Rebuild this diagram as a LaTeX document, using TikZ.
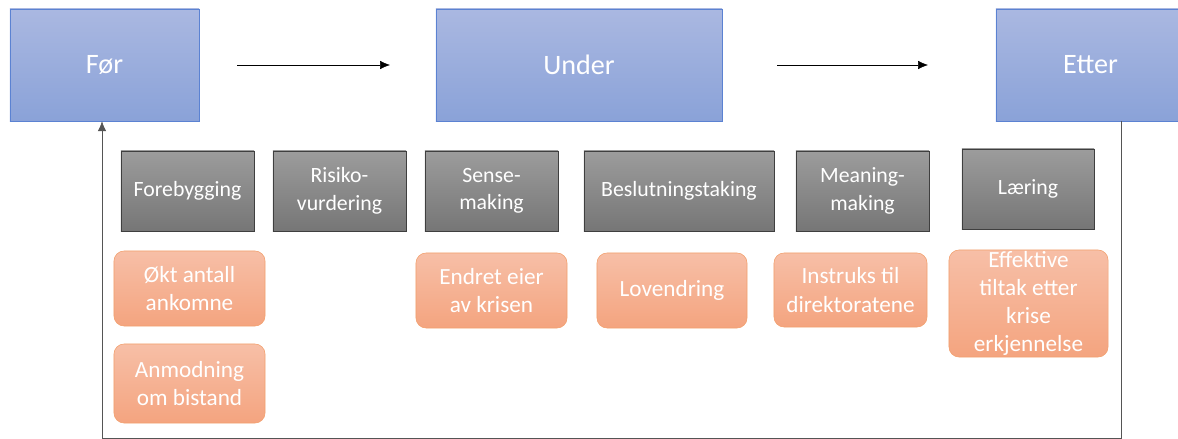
\documentclass[tikz,border=0pt]{standalone}
\usepackage{fontspec}
\setmainfont{Carlito}
\usepackage{xcolor}
\usetikzlibrary{arrows.meta, positioning}
\definecolor{phasetop}{HTML}{AAB8E1}
\definecolor{phasebot}{HTML}{8AA2D8}
\definecolor{phaseline}{HTML}{5B82D2}
\definecolor{tasktop}{HTML}{9C9C9C}
\definecolor{taskbot}{HTML}{767676}
\definecolor{taskline}{HTML}{3F3F3F}
\definecolor{restop}{HTML}{F7BFA7}
\definecolor{resbot}{HTML}{F4A47F}
\definecolor{resline}{HTML}{F2A06E}
\definecolor{loopline}{HTML}{555555}

\begin{document}
\begin{tikzpicture}[x=0.025cm, y=-0.025cm,
  phase/.style={draw=phaseline, top color=phasetop, bottom color=phasebot,
    minimum width=4.725cm, minimum height=2.8cm, inner sep=0pt,
    text=white, font=\fontsize{20}{24}\selectfont},
  task/.style={draw=taskline, top color=tasktop, bottom color=taskbot,
    minimum width=3.325cm, minimum height=2cm, inner sep=0pt, align=center,
    text=white, font=\fontsize{15.5}{19.5}\selectfont},
  result/.style={draw=resline, top color=restop, bottom color=resbot,
    rounded corners=0.25cm, minimum width=3.775cm, minimum height=1.875cm,
    inner sep=0pt, align=center, text=white, font=\fontsize{16.5}{20}\selectfont}]
\useasboundingbox (0,0) rectangle (1178,439);

% phases
\node[phase] (foer) at (104.5, 65) {Før};
\node[phase, minimum width=7.15cm] (under) at (579, 65) {Under};
\node[phase] (etter) at (1090.5, 65) {Etter};

\coordinate (a1) at (237, 65);
\coordinate (a2) at (390, 65);
\coordinate (b1) at (777, 65);
\coordinate (b2) at (928, 65);
\draw[thin, -{Latex[length=7pt, width=6pt]}] (a1) -- (a2);
\draw[thin, -{Latex[length=7pt, width=6pt]}] (b1) -- (b2);

% tasks
\node[task] (forebygging) at (187.5, 191) {Forebygging};
\node[task] (risiko) at (339.5, 191) {Risiko-\\vurdering};
\node[task] (sense) at (491.5, 191) {Sense-\\making};
\node[task, minimum width=4.75cm] (beslutning) at (679, 191) {Beslutningstaking};
\node[task] (meaning) at (862.5, 191) {Meaning-\\making};
\node[task, minimum width=3.3cm] (laering) at (1028, 189) {Læring};

% results
\node[result] (oekt) at (189.5, 288.5) {Økt antall\\ankomne};
\node[result, minimum height=1.975cm] (anmodning) at (189.5, 383.5) {Anmodning\\om bistand};
\node[result] (endret) at (491.5, 290.5) {Endret eier\\av krisen};
\node[result, minimum width=3.75cm] (lovendring) at (672, 290.5) {Lovendring};
\node[result, minimum width=3.825cm, minimum height=1.85cm] (instruks) at (850.5, 290) {Instruks til\\direktoratene};
\node[result, minimum width=3.975cm, minimum height=2.675cm] (effektive) at (1028.5, 303.5) {Effektive\\tiltak etter\\krise\\erkjennelse};

% feedback loop
\coordinate (loopR) at (1121, 438);
\coordinate (loopL) at (102, 438);
\draw[loopline, thin, -{Latex[length=7pt, width=6pt]}] (etter.south -| loopR) -- (loopR) -- (loopL) -- (loopL |- foer.south);
\end{tikzpicture}
\end{document}
